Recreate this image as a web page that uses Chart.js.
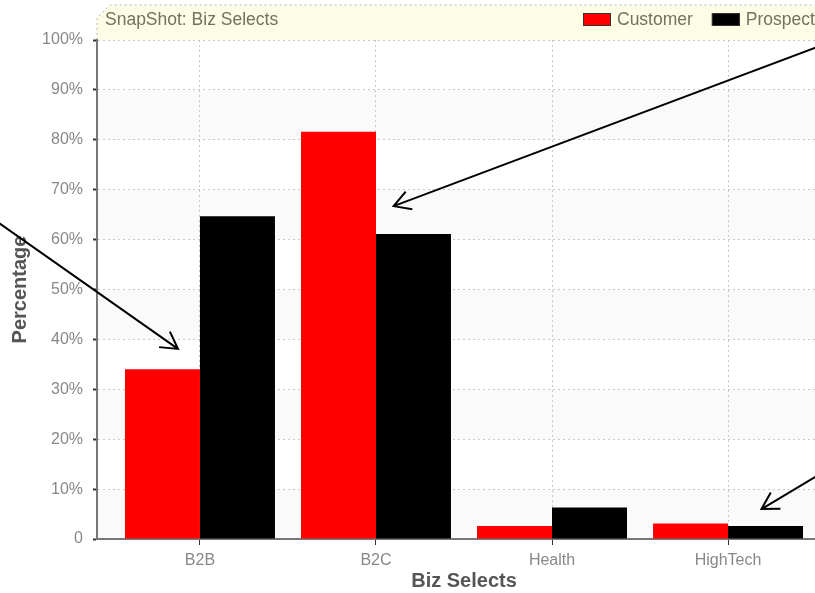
<!DOCTYPE html>
<html>
<head>
<meta charset="utf-8">
<title>SnapShot: Biz Selects</title>
<script src="https://cdn.jsdelivr.net/npm/chart.js@4/dist/chart.umd.min.js"></script>
<style>
  html,body{margin:0;padding:0;background:#fff;overflow:hidden;}
  #wrap{width:815px;height:593px;overflow:hidden;position:relative;}
  #box{width:860px;height:593px;position:absolute;left:0;top:0;}
</style>
</head>
<body>
<div id="wrap"><div id="box"><canvas id="chart"></canvas></div></div>
<script>
// data
const categories = ['B2B', 'B2C', 'Health', 'HighTech'];
const customer = [34.0, 81.6, 2.6, 3.1];
const prospect = [64.7, 61.1, 6.3, 2.6];
const yTicks = [0, 10, 20, 30, 40, 50, 60, 70, 80, 90, 100];

// annotation arrows in data units (x = category index, y = percent)
const arrowTips  = [{x:-0.125, y:38.1}, {x:1.10, y:66.7}, {x:3.19, y:6.0}];
const arrowTails = [{x:-1.17, y:64.0}, {x:3.75, y:101.8}, {x:3.75, y:17.8}];

const FONT = '"Liberation Sans", Arial, Helvetica, sans-serif';
const xMin = -0.585, xMax = 3.585;

const frame = {
  id:'frame',
  beforeDraw(chart){
    const {ctx, chartArea:a, scales:{y}} = chart;
    ctx.save();
    ctx.fillStyle='#fff';
    ctx.fillRect(0,0,chart.width,chart.height);
    // faint dotted bands
    ctx.fillStyle='rgba(0,0,0,0.018)';
    for(let i=0;i<yTicks.length-1;i+=2){
      const t=y.getPixelForValue(yTicks[i+1]), b=y.getPixelForValue(yTicks[i]);
      ctx.fillRect(a.left,t,a.right-a.left,b-t);
    }
    // title box
    ctx.beginPath();
    ctx.moveTo(a.left,a.top);
    ctx.lineTo(a.left,18);
    ctx.lineTo(a.left+13,5);
    ctx.lineTo(chart.width,5);
    ctx.lineTo(chart.width,a.top);
    ctx.closePath();
    ctx.fillStyle='#fdfde6';
    ctx.fill();
    ctx.setLineDash([2,3]);
    ctx.strokeStyle='#b8b8b0';
    ctx.lineWidth=1;
    ctx.beginPath();
    ctx.moveTo(a.left,a.top);ctx.lineTo(a.left,18);ctx.lineTo(a.left+13,5);ctx.lineTo(chart.width,5);
    ctx.stroke();
    ctx.setLineDash([]);
    ctx.font='17.5px '+FONT;
    ctx.textBaseline='middle';
    ctx.fillStyle='#73735c';
    ctx.fillText('SnapShot: Biz Selects',a.left+8,20);
    // legend
    let lx=583;
    chart.data.datasets.forEach(ds=>{
      ctx.fillStyle=ds.backgroundColor;
      ctx.fillRect(lx,13,28,13);
      ctx.strokeStyle='#333';
      ctx.strokeRect(lx+0.5,13.5,27,12);
      ctx.fillStyle='#73735c';
      ctx.fillText(ds.label,lx+34,20);
      lx+=34+ctx.measureText(ds.label).width+19;
    });
    ctx.restore();
  },
  afterDraw(chart){
    const {ctx, scales:{x,y}} = chart;
    ctx.save();
    ctx.strokeStyle='#000';
    ctx.lineWidth=2;
    arrowTips.forEach((tip,i)=>{
      const tx=x.getPixelForValue(tip.x), ty=y.getPixelForValue(tip.y);
      const sx=x.getPixelForValue(arrowTails[i].x), sy=y.getPixelForValue(arrowTails[i].y);
      const ang=Math.atan2(sy-ty,sx-tx);
      ctx.beginPath();
      ctx.moveTo(sx,sy);ctx.lineTo(tx,ty);
      ctx.moveTo(tx+19*Math.cos(ang-0.52),ty+19*Math.sin(ang-0.52));
      ctx.lineTo(tx,ty);
      ctx.lineTo(tx+19*Math.cos(ang+0.52),ty+19*Math.sin(ang+0.52));
      ctx.stroke();
    });
    ctx.restore();
  }
};

new Chart(document.getElementById('chart'), {
  type:'bar',
  data:{
    datasets:[
      {label:'Customer', data:categories.map((c,i)=>({x:i,y:customer[i]})), backgroundColor:'#ff0000'},
      {label:'Prospect', data:categories.map((c,i)=>({x:i,y:prospect[i]})), backgroundColor:'#000000'}
    ]
  },
  options:{
    responsive:true,
    maintainAspectRatio:false,
    animation:false,
    categoryPercentage:0.852,
    barPercentage:1.0,
    layout:{padding:{top:40,right:29,left:0,bottom:0}},
    plugins:{legend:{display:false},tooltip:{enabled:false}},
    scales:{
      x:{
        type:'linear',
        min:xMin, max:xMax,
        offset:false,
        afterBuildTicks(scale){ scale.ticks=categories.map((c,i)=>({value:i})); },
        afterFit(scale){ scale.height=54; },
        ticks:{callback:v=>categories[v], color:'#888', font:{family:FONT,size:16}, padding:6, maxRotation:0, autoSkip:false},
        grid:{offset:false, color:'#c8c8c8', tickColor:'#333', tickLength:6, tickWidth:1, tickBorderDash:[]},
        border:{display:true, color:'#777', width:2, dash:[2,3]},
        title:{display:true, text:'Biz Selects', color:'#555', font:{family:FONT,size:20,weight:'bold'}, padding:{top:0,bottom:0}}
      },
      y:{
        min:0, max:100,
        afterBuildTicks(scale){ scale.ticks=yTicks.map(v=>({value:v})); },
        afterFit(scale){ scale.width=97; },
        ticks:{callback:v=>v===0?'0':v+'%', color:'#888', font:{family:FONT,size:16}, padding:10},
        grid:{color:'#c8c8c8', tickColor:'#333', tickLength:4, tickWidth:2, tickBorderDash:[]},
        border:{display:true, color:'#777', width:2, dash:[2,3]},
        title:{display:true, text:'Percentage', color:'#555', font:{family:FONT,size:20,weight:'bold'}, padding:{top:8,bottom:0}}
      }
    }
  },
  plugins:[frame]
});
</script>
</body>
</html>
